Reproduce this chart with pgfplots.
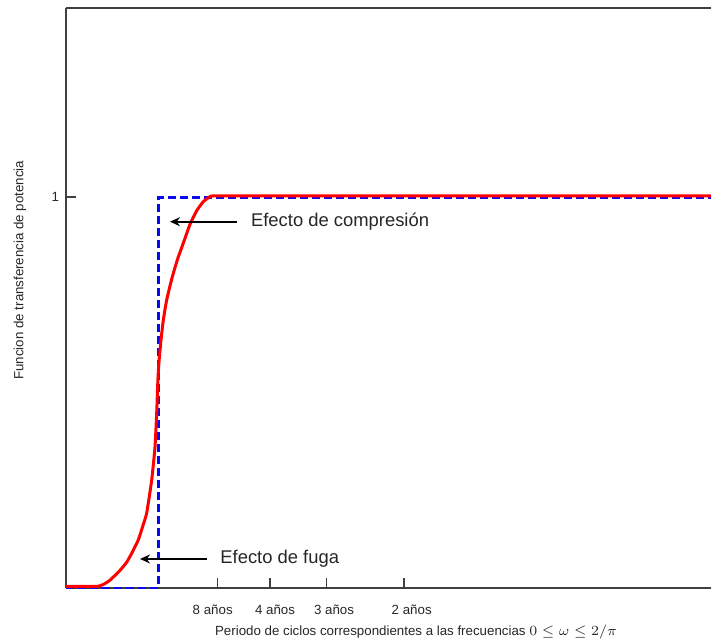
\documentclass[border=0pt]{standalone}
\usepackage{fontspec}
\setmainfont{Liberation Sans}
\usepackage{pgfplots}
\pgfplotsset{compat=1.18}
\usetikzlibrary{arrows.meta}
\definecolor{axgray}{HTML}{404040}
\definecolor{txtgray}{HTML}{262626}
\definecolor{myblue}{HTML}{0A0AF0}
\begin{document}
\begin{tikzpicture}
\begin{axis}[
  scale only axis, width=322.5pt, height=290pt,
  xmin=0, xmax=645, ymin=0, ymax=1.4834,
  clip=false,
  axis x line*=bottom, axis y line*=left,
  axis line style={axgray, line width=0.75pt, -},
  xtick={151.7,204,260.7,338}, xticklabels={},
  extra x ticks={146.7,209,268,345.7},
  extra x tick labels={8 años,4 años,3 años,2 años},
  extra x tick style={major tick length=0pt, tick style={draw=none}},
  ytick={1}, yticklabels={1},
  tick align=inside, major tick length=5pt,
  tick style={axgray, line width=0.75pt},
  xticklabel style={font=\fontsize{6.65pt}{8pt}\selectfont, text=txtgray, anchor=base, yshift=-13.5pt},
  yticklabel style={font=\fontsize{6.65pt}{8pt}\selectfont, text=txtgray},
  xlabel={Periodo de ciclos correspondientes a las frecuencias $0\le\omega\le 2/\pi$},
  xlabel style={font=\fontsize{6.65pt}{8pt}\selectfont, text=txtgray, at={(axis description cs:0.5426,0)}, anchor=base, yshift=-24pt},
  ylabel={Funcion de transferencia de potencia},
  ylabel style={font=\fontsize{6.65pt}{8pt}\selectfont, text=txtgray, at={(axis description cs:-0.0713,0.548)}, anchor=center},
]
\draw[axgray, line width=0.75pt] (rel axis cs:0,1) -- (rel axis cs:1,1);
\addplot[myblue, line width=1.3pt, dash pattern=on 4pt off 2pt] coordinates {
 (0,0) (92.3,0) (92.3,0.998) (645,0.998)
};
\addplot[red, line width=1.5pt, line join=round, smooth, tension=0.3] coordinates {
 (0,0.004) (28,0.004) (33,0.005) (37.3,0.009) (44,0.02) (54,0.045) (60.7,0.066)
 (66,0.09) (72.3,0.123) (77,0.16) (80.7,0.192) (85.7,0.276) (89,0.361)
 (90.7,0.448) (91.7,0.52) (92.6,0.565) (93.6,0.597) (95,0.634) (97.3,0.685)
 (100.7,0.737) (105.7,0.79) (111.3,0.839) (117.3,0.882) (124,0.93)
 (130.7,0.965) (137.3,0.988) (143,0.999) (148,1.003) (200,1.003) (645,1.003)
};
\draw[-{Stealth[length=5pt,width=4.5pt]}, line width=1pt, black] (axis cs:170.7,0.9368) -- (axis cs:104,0.9368);
\node[anchor=west, inner sep=0pt, text=txtgray, font=\fontsize{9.2pt}{11pt}\selectfont] at (axis cs:184.7,0.9368) {Efecto de compresión};
\draw[-{Stealth[length=5pt,width=4.5pt]}, line width=1pt, black] (axis cs:140.7,0.0742) -- (axis cs:74,0.0742);
\node[anchor=west, inner sep=0pt, text=txtgray, font=\fontsize{9.2pt}{11pt}\selectfont] at (axis cs:154,0.0742) {Efecto de fuga};
\end{axis}
\pgfresetboundingbox
\path ([shift={(-33pt,-25.5pt)}]current axis.south west) rectangle ([shift={(0pt,4pt)}]current axis.north east);
\end{tikzpicture}
\end{document}
